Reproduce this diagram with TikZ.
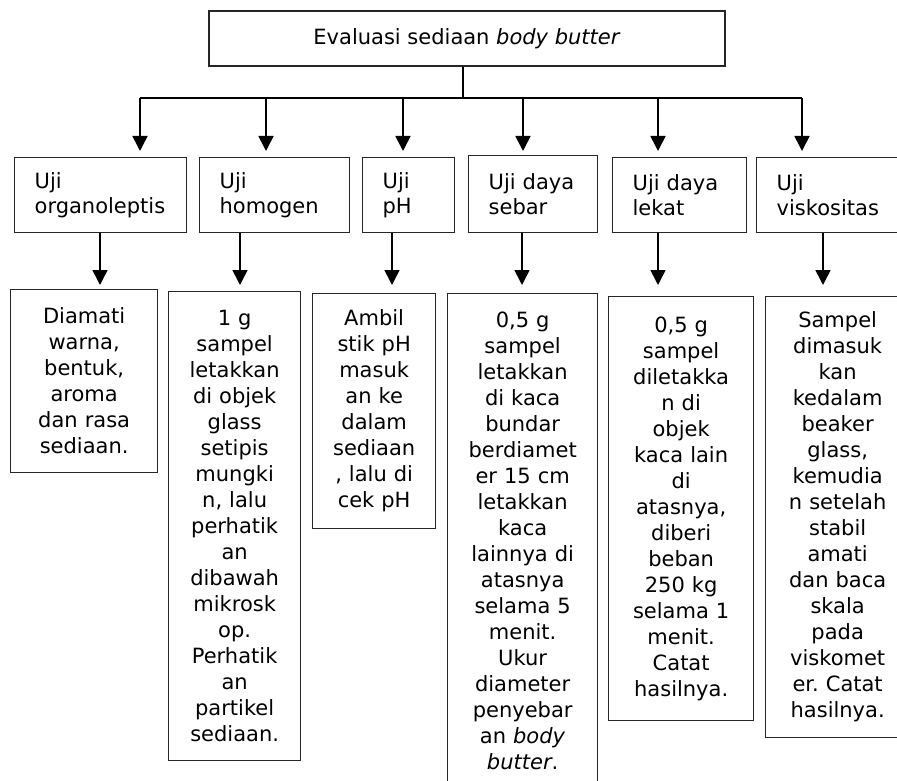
\documentclass[tikz,border=0pt]{standalone}
\usepackage{fontspec}
\setmainfont{DejaVu Sans}
\usetikzlibrary{arrows.meta}
\hyphenpenalty=10000
\frenchspacing

\begin{document}
\begin{tikzpicture}[
    x=1pt, y=-1pt,
    every node/.style={font=\fontsize{21}{26}\selectfont},
    box/.style={draw=black!85,line width=1.3pt,rectangle,anchor=north west,inner ysep=0pt},
    head/.style={box,align=left,inner xsep=20pt,minimum height=75pt,font=\fontsize{21}{24.5}\selectfont},
    body/.style={box,align=center,inner xsep=4pt},
    link/.style={line width=1.6pt},
    arr/.style={link,-{Triangle[width=15pt,length=15pt]}}
]
\useasboundingbox (0,0) rectangle (897,781);
\clip (0,0) rectangle (897,781);

% Main box
\node[draw=black!85,line width=1.3pt,minimum width=516pt,minimum height=55pt] (top) at (467,38.5) {Evaluasi sediaan \textit{body butter}};

% Branch line
\coordinate (b1) at (140,98);
\coordinate (b2) at (266,98);
\coordinate (b3) at (403,98);
\coordinate (b4) at (523,98);
\coordinate (b5) at (658,98);
\coordinate (b6) at (802,98);
\draw[link] (top.south -| 463,0) -- (463,98);
\draw[link] (b1) -- (b6);

% Tests
\node[head,text width=132pt] (o1) at (14,157)  {Uji\\organoleptis};
\node[head,text width=110pt] (o2) at (199,157) {Uji\\homogen};
\node[head,text width=52pt]  (o3) at (362,157) {Uji\\pH};
\node[head,text width=89pt,minimum height=77pt] (o4) at (468,155) {Uji daya\\sebar};
\node[head,text width=94pt]  (o5) at (612,157) {Uji daya\\lekat};
\node[head,text width=120pt] (o6) at (756,157) {Uji\\viskositas};

\draw[arr,shorten >=6pt] (b1) -- (b1 |- o1.north);
\draw[arr,shorten >=6pt] (b2) -- (b2 |- o2.north);
\draw[arr,shorten >=6pt] (b3) -- (b3 |- o3.north);
\draw[arr,shorten >=4pt] (b4) -- (b4 |- o4.north);
\draw[arr,shorten >=6pt] (b5) -- (b5 |- o5.north);
\draw[arr,shorten >=6pt] (b6) -- (b6 |- o6.north);

% Procedures
\node[body,text width=139pt,minimum height=183pt] (d1) at (10,289)
  {Diamati\\warna,\\bentuk,\\aroma\\dan rasa\\sediaan.};
\node[body,text width=124pt,minimum height=469pt] (d2) at (168,291)
  {1 g\\sampel\\letakkan\\di objek\\glass\\setipis\\mungki\\n, lalu\\perhatik\\an\\dibawah\\mikrosk\\op.\\Perhatik\\an\\partikel\\sediaan.};
\node[body,text width=115pt,minimum height=235pt] (d3) at (312,293)
  {Ambil\\stik pH\\masuk\\an ke\\dalam\\sediaan\\, lalu di\\cek pH};
\node[body,text width=142pt,minimum height=495pt] (d4) at (447,293)
  {0,5 g\\sampel\\letakkan\\di kaca\\bundar\\berdiamet\\er 15 cm\\letakkan\\kaca\\lainnya di\\atasnya\\selama 5\\menit.\\Ukur\\diameter\\penyebar\\an \textit{body}\\\textit{butter}.};
\node[body,text width=137pt,minimum height=424pt] (d5) at (608,296)
  {0,5 g\\sampel\\diletakka\\n di\\objek\\kaca lain\\di\\atasnya,\\diberi\\beban\\250 kg\\selama 1\\menit.\\Catat\\hasilnya.};
\node[body,text width=136pt,minimum height=441pt] (d6) at (765,296)
  {Sampel\\dimasuk\\kan\\kedalam\\beaker\\glass,\\kemudia\\n setelah\\stabil\\amati\\dan baca\\skala\\pada\\viskomet\\er. Catat\\hasilnya.};

\draw[arr,shorten >=4pt]  (o1.south -| 100,0) -- (d1.north -| 100,0);
\draw[arr,shorten >=6pt]  (o2.south -| 240,0) -- (d2.north -| 240,0);
\draw[arr,shorten >=8pt]  (o3.south -| 392,0) -- (d3.north -| 392,0);
\draw[arr,shorten >=8pt]  (o4.south -| 522,0) -- (d4.north -| 522,0);
\draw[arr,shorten >=11pt] (o5.south -| 658,0) -- (d5.north -| 658,0);
\draw[arr,shorten >=11pt] (o6.south -| 823,0) -- (d6.north -| 823,0);

\end{tikzpicture}
\end{document}
